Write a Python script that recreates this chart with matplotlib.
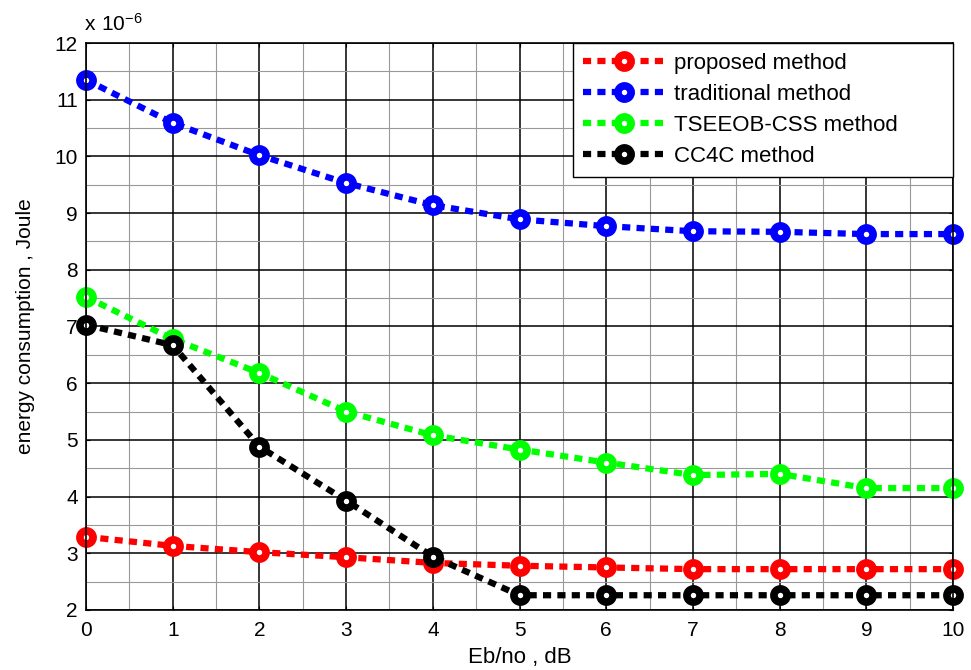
import matplotlib
matplotlib.use('Agg')
import matplotlib.pyplot as plt
from matplotlib.ticker import MultipleLocator
import numpy as np

plt.rcParams['font.family'] = ['Liberation Sans', 'DejaVu Sans']

# data (energy in units of 1e-6 Joule)
ebno = [0, 1, 2, 3, 4, 5, 6, 7, 8, 9, 10]
proposed = [3.29, 3.13, 3.02, 2.93, 2.83, 2.78, 2.75, 2.72, 2.72, 2.72, 2.72]
traditional = [11.35, 10.59, 10.02, 9.53, 9.14, 8.89, 8.77, 8.68, 8.67, 8.63, 8.63]
tseeob = [7.52, 6.78, 6.18, 5.50, 5.08, 4.83, 4.60, 4.38, 4.40, 4.15, 4.15]
cc4c = [7.03, 6.67, 4.88, 3.93, 2.94, 2.26, 2.26, 2.26, 2.26, 2.26, 2.26]

series = [('proposed method', proposed, '#ff0000'),
          ('traditional method', traditional, '#0000ff'),
          ('TSEEOB-CSS method', tseeob, '#00ff00'),
          ('CC4C method', cc4c, '#000000')]

fig = plt.figure(figsize=(9.71, 6.70), dpi=100)
ax = fig.add_axes([0.0886, 0.0896, 0.8929, 0.8462])

for name, vals, col in series:
    ax.plot(ebno, vals, color=col, linestyle=(0, (1.3, 1.0)), linewidth=4.5,
            dash_capstyle='butt', marker='o', markersize=9.5,
            markeredgewidth=5.5, markerfacecolor='white',
            markeredgecolor=col, label=name, clip_on=False)

ax.set_xlim(0, 10)
ax.set_ylim(2, 12)
ax.xaxis.set_major_locator(MultipleLocator(1))
ax.yaxis.set_major_locator(MultipleLocator(1))
ax.xaxis.set_minor_locator(MultipleLocator(0.5))
ax.yaxis.set_minor_locator(MultipleLocator(0.5))
ax.grid(which='major', color='black', linewidth=1.1, linestyle='-')
ax.grid(which='minor', color='#999999', linewidth=0.8, linestyle='-')
ax.set_axisbelow(True)
ax.tick_params(which='both', direction='in', top=True, right=True,
               labelsize=15, length=3)
ax.tick_params(axis='x', pad=8)
ax.tick_params(axis='y', pad=6)
ax.tick_params(which='minor', length=0)
for s in ax.spines.values():
    s.set_linewidth(1.2)

ax.set_xlabel('Eb/no , dB', fontsize=16, labelpad=5)
ax.set_ylabel('energy consumption , Joule', fontsize=15, labelpad=14)
ax.text(-0.002, 1.014, r'$\mathregular{x\ 10^{-6}}$', transform=ax.transAxes,
        fontsize=15, ha='left', va='bottom')

leg = ax.legend(loc='upper right', bbox_to_anchor=(0.5617, 0, 0.4383, 1.0),
                mode='expand', fontsize=16, fancybox=False,
                edgecolor='black', framealpha=1, borderaxespad=0.0,
                handlelength=3.7, handletextpad=0.4, labelspacing=0.45,
                borderpad=0.45)
leg.get_frame().set_linewidth(1.0)

fig.savefig('out.png', dpi=100)
